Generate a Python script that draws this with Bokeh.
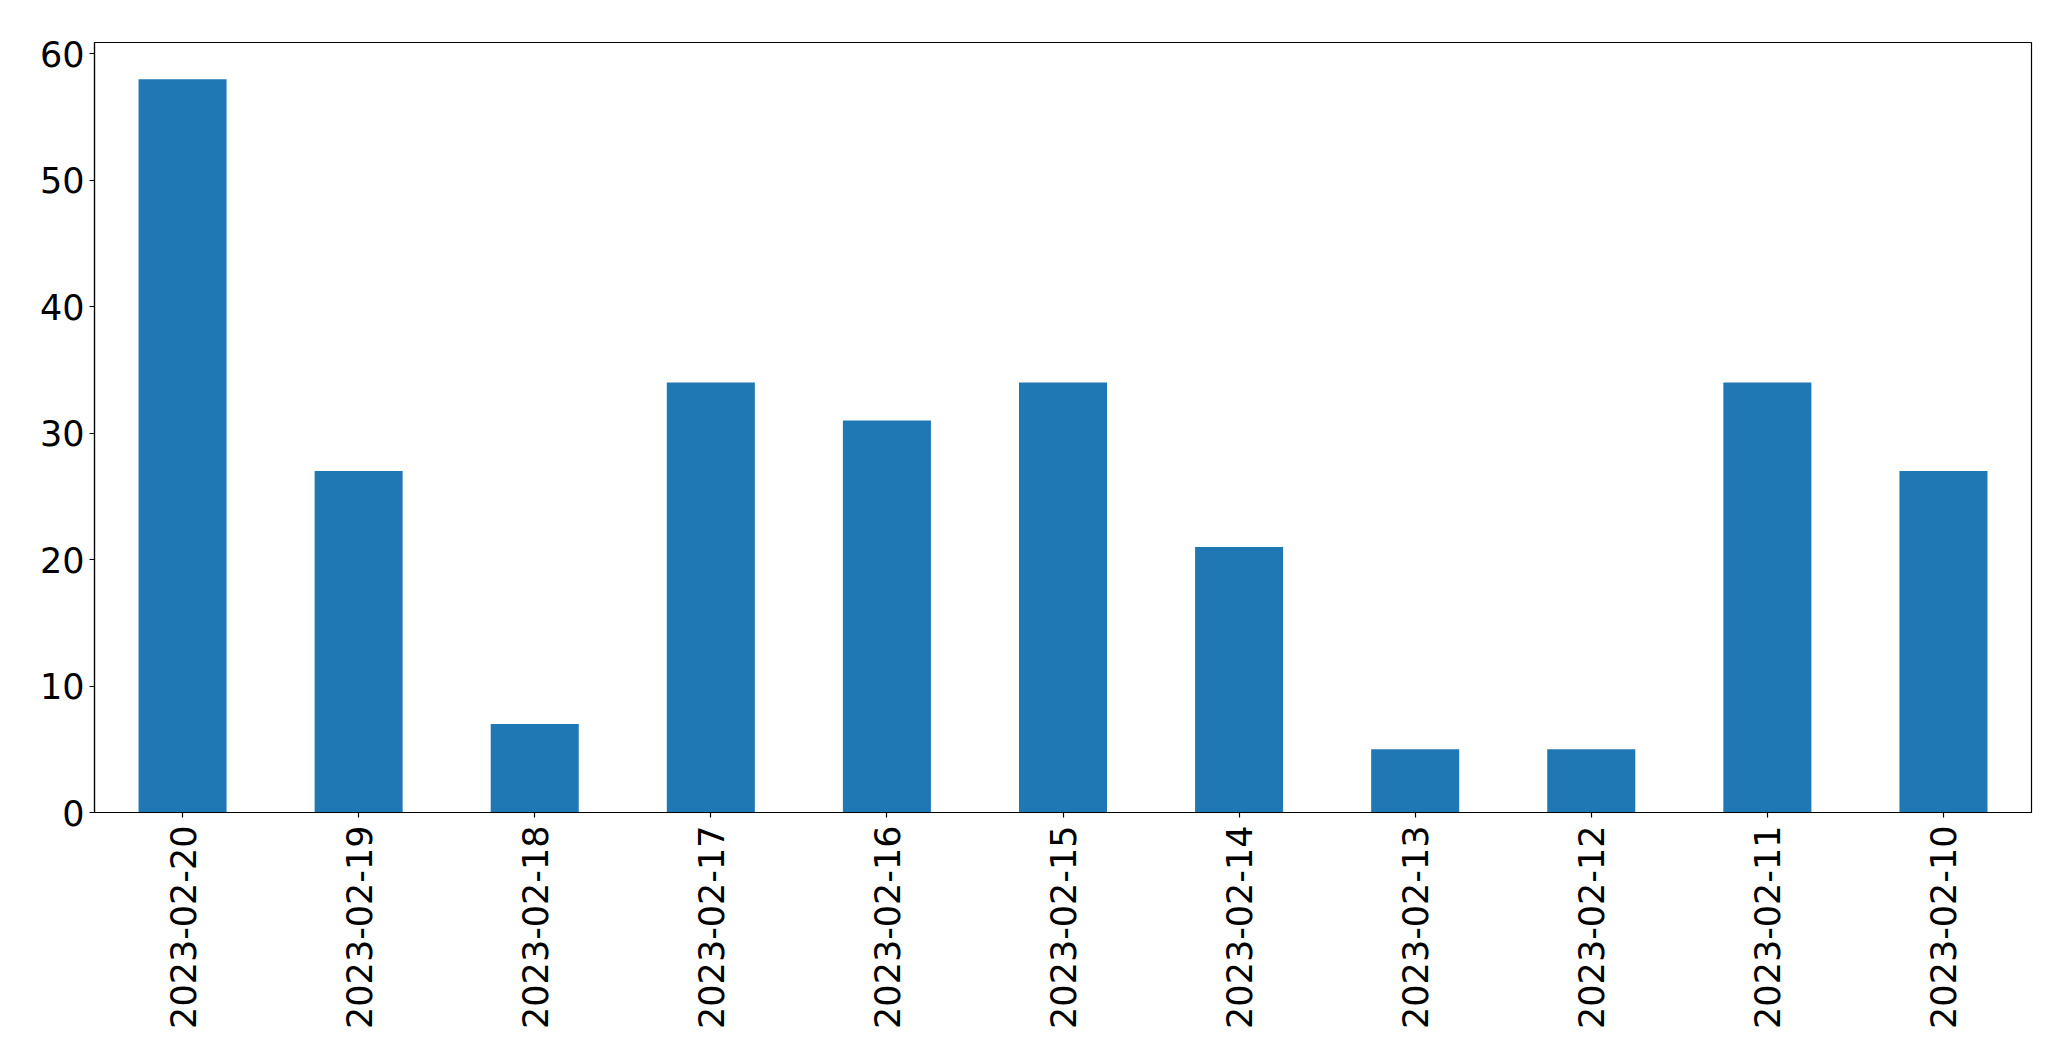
import math
from bokeh.plotting import figure
from bokeh.models import Range1d, FactorRange, FixedTicker, ColumnDataSource
from bokeh.embed import file_html
from bokeh.resources import INLINE

dates = ["2023-02-20", "2023-02-19", "2023-02-18", "2023-02-17", "2023-02-16",
         "2023-02-15", "2023-02-14", "2023-02-13", "2023-02-12", "2023-02-11",
         "2023-02-10"]
counts = [58, 27, 7, 34, 31, 34, 21, 5, 5, 34, 27]
y_ticks = [0, 10, 20, 30, 40, 50, 60]

src = ColumnDataSource(dict(date=dates, count=counts))

p = figure(x_range=FactorRange(*dates, range_padding=0),
           y_range=Range1d(0, max(counts) * 1.05),
           width=2055, height=1046,
           min_border_left=94, min_border_top=42, min_border_right=24,
           min_border_bottom=234,
           output_backend="svg", toolbar_location=None)

p.vbar(x="date", top="count", width=0.5, source=src,
       fill_color="#1f77b4", line_color=None)

p.grid.visible = False
p.outline_line_color = "black"
p.outline_line_width = 1.2
p.outline_line_alpha = 1.0
p.background_fill_color = "white"
p.border_fill_color = "white"

for ax in (p.xaxis[0], p.yaxis[0]):
    ax.axis_line_color = "black"
    ax.axis_line_width = 1.2
    ax.major_tick_line_color = "black"
    ax.major_tick_line_width = 1.2
    ax.major_tick_out = 5
    ax.major_tick_in = 0
    ax.minor_tick_line_color = None
    ax.major_label_text_font = "DejaVu Sans"
    ax.major_label_text_font_size = "35px"
    ax.major_label_text_color = "black"
    ax.major_label_standoff = 5

p.yaxis[0].ticker = FixedTicker(ticks=y_ticks)
p.xaxis[0].major_label_orientation = math.pi / 2
p.xaxis[0].major_label_standoff = 8

open("out.html", "w").write(file_html(p, INLINE))
